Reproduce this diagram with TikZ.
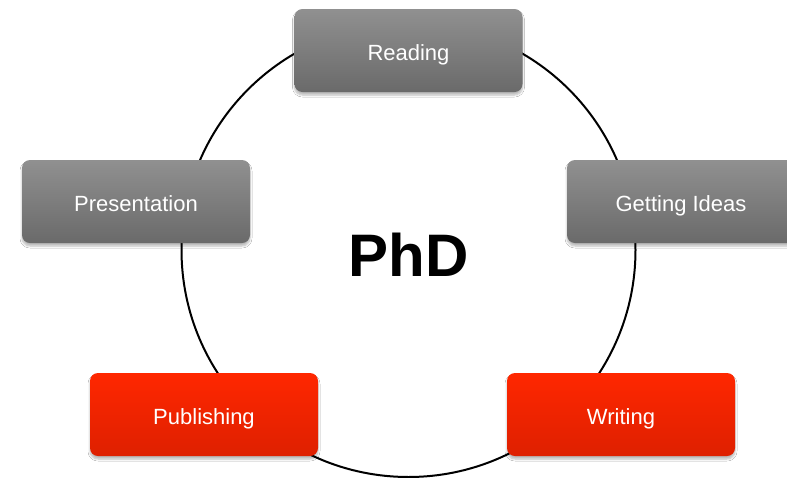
\documentclass[tikz,border=0pt]{standalone}
\usepackage{fontspec}
\setmainfont{Liberation Sans}
\usetikzlibrary{shadows.blur}

\definecolor{greytop}{HTML}{909090}
\definecolor{greybot}{HTML}{6A6A6A}
\definecolor{redtop}{HTML}{FF2700}
\definecolor{redbot}{HTML}{DE2000}

\tikzset{
  stagebox/.style={
    rounded corners=8pt, minimum width=228pt, minimum height=83pt,
    inner sep=0pt, text=white, text height=22pt, text depth=2pt,
    font=\fontsize{22}{26}\selectfont,
    blur shadow={shadow xshift=0pt, shadow yshift=-3pt,
                 shadow blur steps=6, shadow blur radius=2pt, shadow opacity=28}
  },
  greystage/.style={stagebox, top color=greytop, bottom color=greybot},
  redstage/.style={stagebox, top color=redtop, bottom color=redbot},
  cycle ring/.style={draw=black, line width=2pt, circle, minimum size=454pt, inner sep=0pt}
}

\begin{document}
\begin{tikzpicture}[x=1pt, y=-1pt]
  \useasboundingbox (0,0) rectangle (787,477);
  \fill[white] (0,0) rectangle (787,477);

  % the cycle behind the stages
  \node[cycle ring] (ring) at (408.5,250) {};

  % the stages
  \node[greystage] (reading)      at (408.5,50.5)  {Reading};
  \node[greystage] (ideas)        at (681,201.5)   {Getting Ideas};
  \node[greystage] (presentation) at (136,201.5)   {Presentation};
  \node[redstage]  (publishing)   at (204,414.5)   {Publishing};
  \node[redstage]  (writing)      at (621,414.5)   {Writing};

  % centre label
  \node[font=\fontsize{60}{66}\selectfont\bfseries] (phd) at (408.5,255) {PhD};
\end{tikzpicture}
\end{document}
